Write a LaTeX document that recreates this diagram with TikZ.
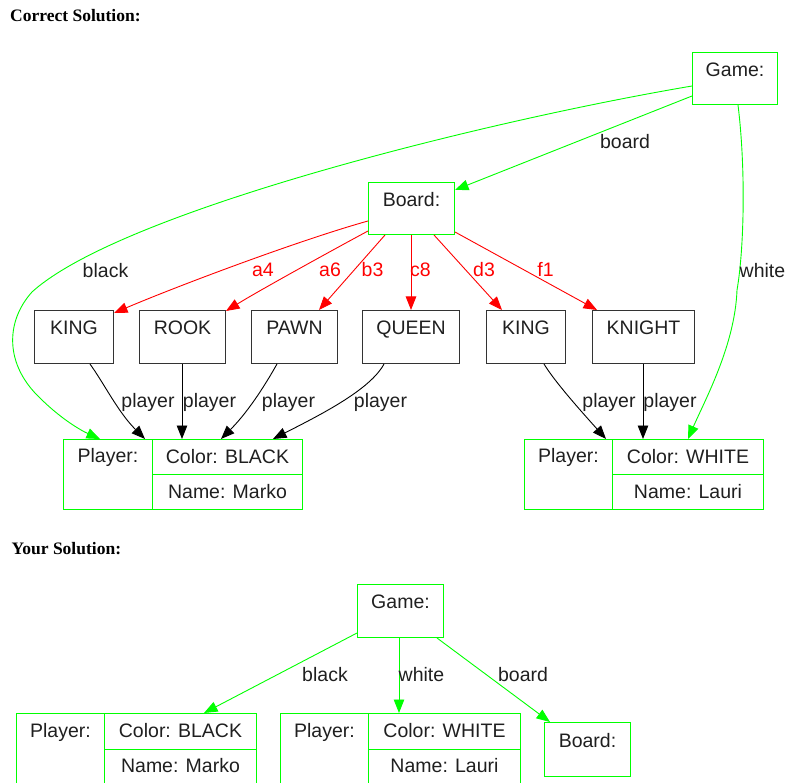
\documentclass[tikz,border=0pt]{standalone}
\usepackage{fontspec}
\setmainfont{Liberation Sans}
\newfontfamily\headfont{Liberation Serif}
\usetikzlibrary{arrows.meta,calc}
\definecolor{ggreen}{RGB}{0,255,0}
\definecolor{rred}{RGB}{255,0,0}
\begin{document}
\begin{tikzpicture}[x=1pt,y=-1pt,
  every node/.style={font=\fontsize{19.5}{23}\selectfont, text=black!88},
  gbox/.style={draw=ggreen, line width=1pt, inner sep=0pt, anchor=north west},
  kbox/.style={draw=black!80, line width=1pt, inner sep=0pt, anchor=north west, text height=24pt, text depth=29pt},
  tip/.style={-{Triangle[length=13.5pt,width=10.5pt]}},
  gedge/.style={tip, draw=ggreen, line width=0.9pt},
  redge/.style={tip, draw=rred, line width=0.9pt},
  kedge/.style={tip, draw=black, line width=0.9pt},
  lbl/.style={anchor=base, inner sep=0pt},
  rlbl/.style={lbl, text=rred},
  head/.style={anchor=base west, inner sep=0pt, font=\headfont\bfseries\fontsize{17.5}{20}\selectfont, text=black}
]
\useasboundingbox (0,0) rectangle (787,783);

% ---------- Correct solution ----------
\node[head] (h1) at (10,21.7) {Correct Solution:};

\node[gbox, minimum width=85pt, text height=24pt, text depth=28pt] (game) at (692,52) {Game:};
\node[gbox, minimum width=86pt, text height=24pt, text depth=28pt] (board) at (368,182) {Board:};

\node[kbox, minimum width=79pt] (king1) at (34,310) {KING};
\node[kbox, minimum width=86pt] (rook) at (139,310) {ROOK};
\node[kbox, minimum width=86pt] (pawn) at (251,310) {PAWN};
\node[kbox, minimum width=97pt] (queen) at (362,310) {QUEEN};
\node[kbox, minimum width=79pt] (king2) at (486,310) {KING};
\node[kbox, minimum width=102pt] (knight) at (592,310) {KNIGHT};

% black player
\node[gbox, minimum width=89pt, text height=23pt, text depth=47pt] (pbL) at (63,439) {Player:};
\node[gbox, minimum width=150pt, text height=23.5pt, text depth=11.5pt] (pbC) at (152,439) {Color: BLACK};
\node[gbox, minimum width=150pt, text height=23.5pt, text depth=11.5pt] (pbN) at (152,474) {Name: Marko};
% white player
\node[gbox, minimum width=88pt, text height=23pt, text depth=47pt] (pwL) at (524,439) {Player:};
\node[gbox, minimum width=151pt, text height=23.5pt, text depth=11.5pt] (pwC) at (612,439) {Color: WHITE};
\node[gbox, minimum width=151pt, text height=23.5pt, text depth=11.5pt] (pwN) at (612,474) {Name: Lauri};

% green edges
\draw[gedge] ($(game.north west)+(0,44)$) -- ($(board.north east)+(0,8)$);
\node[lbl] (lboard) at (625,149) {board};
\draw[gedge] ($(game.north west)+(0,34)$) .. controls (480,122) and (120,212) .. (32,292)
   .. controls (5,322) and (5,365) .. (40,398)
   .. controls (60,418) and (80,430) .. ($(pbL.north west)+(37,0)$);
\node[lbl] (lblack) at (105.5,278) {black};
\draw[gedge] ($(game.south west)+(46,0)$) .. controls (746,170) and (744,250) .. (737,290)
   .. controls (735,345) and (705,400) .. ($(pwC.north west)+(76,0)$);
\node[lbl] (lwhite) at (762.5,278) {white};

% red edges
\draw[redge] ($(board.north west)+(0,39)$) .. controls (300,240) and (180,285) .. ($(king1.north east)+(0,3)$);
\draw[redge] ($(board.north west)+(0,49)$) .. controls (340,246) and (260,290) .. ($(rook.north east)+(0,1)$);
\draw[redge] ($(board.south west)+(17,0)$) -- ($(pawn.north west)+(68,0)$);
\draw[redge] ($(board.south west)+(43,0)$) -- ($(queen.north west)+(49,0)$);
\draw[redge] ($(board.south west)+(66,0)$) -- ($(king2.north west)+(16,0)$);
\draw[redge] ($(board.north east)+(0,50)$) -- ($(knight.north west)+(5,0)$);
\node[rlbl] (la4) at (263,277) {a4};
\node[rlbl] (la6) at (330,277) {a6};
\node[rlbl] (lb3) at (372.5,277) {b3};
\node[rlbl] (lc8) at (420.5,277) {c8};
\node[rlbl] (ld3) at (484,277) {d3};
\node[rlbl] (lf1) at (545.5,277) {f1};

% black edges
\draw[kedge] ($(king1.south west)+(56,0)$) .. controls (105,385) and (118,412) .. ($(pbL.north west)+(82,0)$);
\draw[kedge] ($(rook.south west)+(43,0)$) -- ($(pbC.north west)+(30,0)$);
\draw[kedge] ($(pawn.south west)+(26,0)$) .. controls (268,380) and (250,410) .. ($(pbC.north west)+(69,0)$);
\draw[kedge] ($(queen.south west)+(22,0)$) .. controls (370,390) and (320,415) .. ($(pbC.north west)+(121,0)$);
\draw[kedge] ($(king2.south west)+(58,0)$) .. controls (555,382) and (580,410) .. ($(pwL.north west)+(82,0)$);
\draw[kedge] ($(knight.south west)+(51,0)$) -- ($(pwC.north west)+(31,0)$);
\node[lbl] (lp1) at (148,407) {player};
\node[lbl] (lp2) at (209.5,407) {player};
\node[lbl] (lp3) at (288.5,407) {player};
\node[lbl] (lp4) at (380.5,407) {player};
\node[lbl] (lp5) at (609,407) {player};
\node[lbl] (lp6) at (670,407) {player};

% ---------- Your solution ----------
\node[head] (h2) at (11.5,554) {Your Solution:};

\node[gbox, minimum width=86pt, text height=24pt, text depth=29pt] (game2) at (357,584) {Game:};
\node[gbox, minimum width=88pt, text height=24pt, text depth=48pt] (pb2L) at (16,713) {Player:};
\node[gbox, minimum width=152pt, text height=24pt, text depth=12pt] (pb2C) at (104,713) {Color: BLACK};
\node[gbox, minimum width=152pt, text height=23pt, text depth=13pt] (pb2N) at (104,749) {Name: Marko};
\node[gbox, minimum width=88pt, text height=24pt, text depth=48pt] (pw2L) at (280,713) {Player:};
\node[gbox, minimum width=152pt, text height=24pt, text depth=12pt] (pw2C) at (368,713) {Color: WHITE};
\node[gbox, minimum width=152pt, text height=23pt, text depth=13pt] (pw2N) at (368,749) {Name: Lauri};
\node[gbox, minimum width=86pt, text height=25pt, text depth=29pt] (board2) at (544,722) {Board:};

\draw[gedge] ($(game2.north west)+(0,49)$) -- ($(pb2C.north west)+(100,0)$);
\draw[gedge] ($(game2.south west)+(42,0)$) -- ($(pw2C.north west)+(31,0)$);
\draw[gedge] ($(game2.south west)+(80,0)$) -- ($(board2.north west)+(6,0)$);
\node[lbl] (l2black) at (325,681) {black};
\node[lbl] (l2white) at (421.5,681) {white};
\node[lbl] (l2board) at (523,681) {board};
\end{tikzpicture}
\end{document}
